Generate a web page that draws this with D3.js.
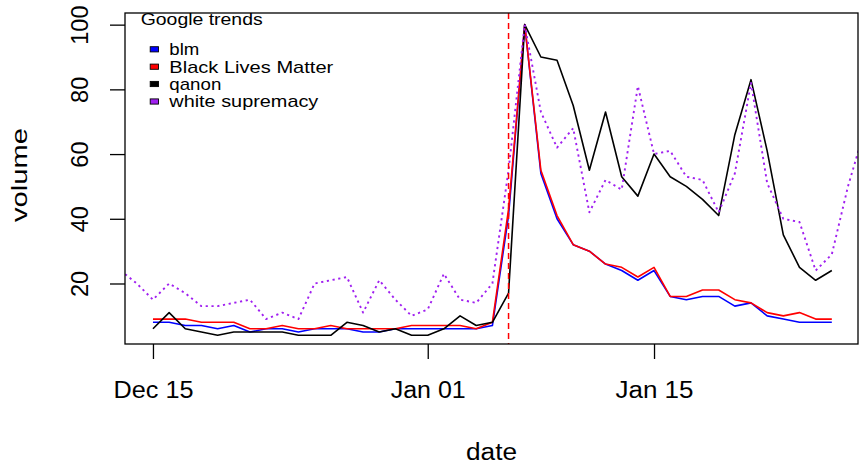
<!DOCTYPE html>
<html>
<head>
<meta charset="utf-8">
<script src="https://cdn.jsdelivr.net/npm/d3@7"></script>
<style>
  html, body { margin: 0; padding: 0; background: #fff; }
  svg { display: block; font-family: "Liberation Sans", Arial, Helvetica, sans-serif; }
</style>
</head>
<body>
<svg id="chart" width="860" height="466"></svg>
<script>
// ---- data ----
const dates = ["2020-12-15","2020-12-16","2020-12-17","2020-12-18","2020-12-19","2020-12-20","2020-12-21",
  "2020-12-22","2020-12-23","2020-12-24","2020-12-25","2020-12-26","2020-12-27","2020-12-28","2020-12-29",
  "2020-12-30","2020-12-31","2021-01-01","2021-01-02","2021-01-03","2021-01-04","2021-01-05","2021-01-06",
  "2021-01-07","2021-01-08","2021-01-09","2021-01-10","2021-01-11","2021-01-12","2021-01-13","2021-01-14",
  "2021-01-15","2021-01-16","2021-01-17","2021-01-18","2021-01-19","2021-01-20","2021-01-21","2021-01-22",
  "2021-01-23","2021-01-24","2021-01-25","2021-01-26"];
const wsDates = ["2020-12-13","2020-12-14"].concat(dates, ["2021-01-27","2021-01-28"]);

const blm = [8,8,7,7,6,7,5,6,6,5,6,6,6,5,5,6,6,6,6,6,6,7,41,100,54,40,32,30,26,24,21,24,16,15,16,16,13,14,10,9,8,8,8];
const blackLivesMatter = [9,9,9,8,8,8,6,6,7,6,6,7,6,6,6,6,7,7,7,7,6,8,43,100,55,41,32,30,26,25,22,25,16,16,18,18,15,14,11,10,11,9,9];
const qanon = [6,11,6,5,4,5,5,5,5,4,4,4,8,7,5,6,4,4,6,10,7,8,17,100,90,89,75,55,73,53,47,60,53,50,46,41,66,83,61,35,25,21,24];
const whiteSupremacy = [24,20,15,20,17,13,13,14,15,9,11,9,20,21,22,11,21,15,10,12,23,15,14,20,55,100,73,62,68,42,52,49,81,60,61,53,52,42,54,82,51,40,39,24,29,50,67];

const eventDate = "2021-01-06";
const xTickDates = ["2020-12-15","2021-01-01","2021-01-15"];
const xTickLabels = ["Dec 15","Jan 01","Jan 15"];
const yTicks = [20,40,60,80,100];
const legendTitle = "Google trends";
const seriesNames = ["blm","Black Lives Matter","qanon","white supremacy"];
const seriesColors = ["#0000FF","#FF0000","#000000","#A020F0"];

// ---- layout ----
const svg = d3.select("#chart");
const L = 125, R = 858, T = 13, B = 344;
const parse = d3.utcParse("%Y-%m-%d");
const DAY = 864e5;
const x = d3.scaleUtc()
  .domain([new Date(parse("2020-12-15").getTime() - 1.73*DAY), new Date(parse("2021-01-15").getTime() + 12.62*DAY)])
  .range([L, R]);
const y = d3.scaleLinear().domain([1.3, 103.6]).range([B, T]);

svg.append("rect").attr("width",860).attr("height",466).attr("fill","#fff");

svg.append("clipPath").attr("id","clip")
  .append("rect").attr("x",L).attr("y",T).attr("width",R-L).attr("height",B-T);

const line = d3.line().x(d => x(d[0])).y(d => y(d[1]));
const g = svg.append("g").attr("clip-path","url(#clip)");

const series = [
  {dates: dates, vals: blm, color: seriesColors[0], dash: null},
  {dates: dates, vals: blackLivesMatter, color: seriesColors[1], dash: null},
  {dates: dates, vals: qanon, color: seriesColors[2], dash: null},
  {dates: wsDates, vals: whiteSupremacy, color: seriesColors[3], dash: "2.2,3.6"}
];
series.forEach(s => {
  g.append("path")
    .datum(s.vals.map((v,i) => [parse(s.dates[i]), v]))
    .attr("d", line)
    .attr("fill","none")
    .attr("stroke", s.color)
    .attr("stroke-width", s.dash ? 1.9 : 1.6)
    .attr("stroke-dasharray", s.dash)
    .attr("stroke-linejoin","round");
});

// event line
g.append("line")
  .attr("x1", x(parse(eventDate))).attr("x2", x(parse(eventDate)))
  .attr("y1", T).attr("y2", B)
  .attr("stroke","#FF0000").attr("stroke-width",1.5).attr("stroke-dasharray","6,4");

// box
svg.append("rect").attr("x",L).attr("y",T).attr("width",R-L).attr("height",B-T)
  .attr("fill","none").attr("stroke","#000").attr("stroke-width",1.3);

// x axis
const xAxis = d3.axisBottom(x)
  .tickValues(xTickDates.map(parse))
  .tickFormat((d,i) => xTickLabels[i])
  .tickSize(15).tickSizeOuter(0);
const xg = svg.append("g").attr("transform",`translate(0,${B})`).call(xAxis);
xg.select(".domain").remove();
xg.selectAll(".tick line").attr("stroke","#000").attr("stroke-width",1.3);
const xLens = [80,75,78];
xg.selectAll(".tick text")
  .attr("y", 53.7).attr("dy", null)
  .attr("fill","#000")
  .attr("font-size", 23)
  .attr("font-family", null)
  .attr("textLength", (d,i) => xLens[i])
  .attr("lengthAdjust","spacingAndGlyphs");

// y axis
const yAxis = d3.axisLeft(y).tickValues(yTicks).tickSize(15).tickSizeOuter(0);
const yg = svg.append("g").attr("transform",`translate(${L},0)`).call(yAxis);
yg.select(".domain").remove();
yg.selectAll(".tick line").attr("stroke","#000").attr("stroke-width",1.3);
yg.selectAll(".tick text")
  .attr("transform","rotate(-90)")
  .attr("x",0).attr("y",-36.7).attr("dy",null)
  .attr("text-anchor","middle")
  .attr("fill","#000")
  .attr("font-size", 23.5)
  .attr("font-family", null);

// axis titles
svg.append("text").attr("x", 491.5).attr("y", 460).attr("text-anchor","middle")
  .attr("font-size", 23).attr("textLength", 51).attr("lengthAdjust","spacingAndGlyphs").text("date");
svg.append("text").attr("transform","translate(27,175) rotate(-90)").attr("text-anchor","middle")
  .attr("font-size", 22).attr("textLength", 94).attr("lengthAdjust","spacingAndGlyphs").text("volume");

// legend
const leg = svg.append("g");
leg.append("text").attr("x",140.7).attr("y",25).attr("font-size",16.5)
  .attr("textLength",122).attr("lengthAdjust","spacingAndGlyphs").text(legendTitle);
const rowY = [49.3, 66.7, 84.0, 101.5];
const legLens = [30, 164, 52, 149];
seriesNames.forEach((n,i) => {
  leg.append("rect").attr("x",150.2).attr("y",rowY[i]-2.6).attr("width",8.3).attr("height",5.2)
    .attr("fill",seriesColors[i]).attr("stroke","#000").attr("stroke-width",0.9);
  leg.append("text").attr("x",169.3).attr("y",rowY[i]+5.8).attr("font-size",17)
    .attr("textLength",legLens[i]).attr("lengthAdjust","spacingAndGlyphs").text(n);
});
</script>
</body>
</html>
